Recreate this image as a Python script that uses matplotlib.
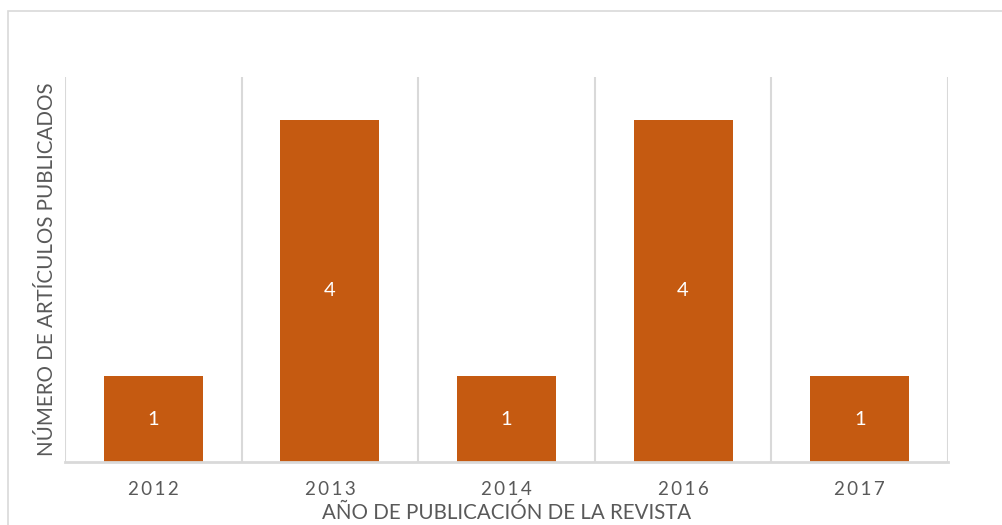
import matplotlib
matplotlib.use("Agg")
import matplotlib.pyplot as plt
from matplotlib.patches import Rectangle

years = ["2012", "2013", "2014", "2016", "2017"]
articles = [1, 4, 1, 4, 1]

bar_color = "#C55A11"
grid_color = "#D9D9D9"
text_color = "#595959"

plt.rcParams['font.family'] = ['Lato', 'DejaVu Sans']

fig = plt.figure(figsize=(10.03, 5.25), dpi=100)
ax = fig.add_axes([0.0648, 0.12, 0.8804, 0.733])

x = range(len(years))
bars = ax.bar(x, articles, width=0.56, color=bar_color, zorder=3)
for b, v in zip(bars, articles):
    ax.text(b.get_x() + b.get_width() / 2, v / 2, str(v), ha="center", va="center",
            color="white", fontsize=14.5, zorder=4)

# category separators
for i in range(len(years) + 1):
    ax.axvline(i - 0.5, color=grid_color, lw=1.5, zorder=1)

ax.set_xlim(-0.5, len(years) - 0.5)
ax.set_ylim(0, 4.5)
ax.set_yticks([])
ax.set_xticks(list(x))
ax.set_xticklabels(["\u2009".join(y) for y in years], fontsize=13.5, color=text_color)
ax.tick_params(axis="x", length=0, pad=14)
for s in ["top", "left", "right"]:
    ax.spines[s].set_visible(False)
ax.spines["bottom"].set_color(grid_color)
ax.spines["bottom"].set_linewidth(2)
ax.spines["bottom"].set_zorder(5)

ax.set_xlabel("AÑO DE PUBLICACIÓN DE LA REVISTA", fontsize=14.8, color=text_color, labelpad=3)
ax.set_ylabel("NÚMERO DE ARTÍCULOS PUBLICADOS", fontsize=14.8, color=text_color, labelpad=6)

# outer chart border
fig.patches.append(Rectangle((8 / 1003, -0.05), 1.0, 1 - 11 / 525 + 0.05,
                             transform=fig.transFigure, fill=False,
                             edgecolor=grid_color, lw=1.2))

plt.savefig("out.png", dpi=100)
